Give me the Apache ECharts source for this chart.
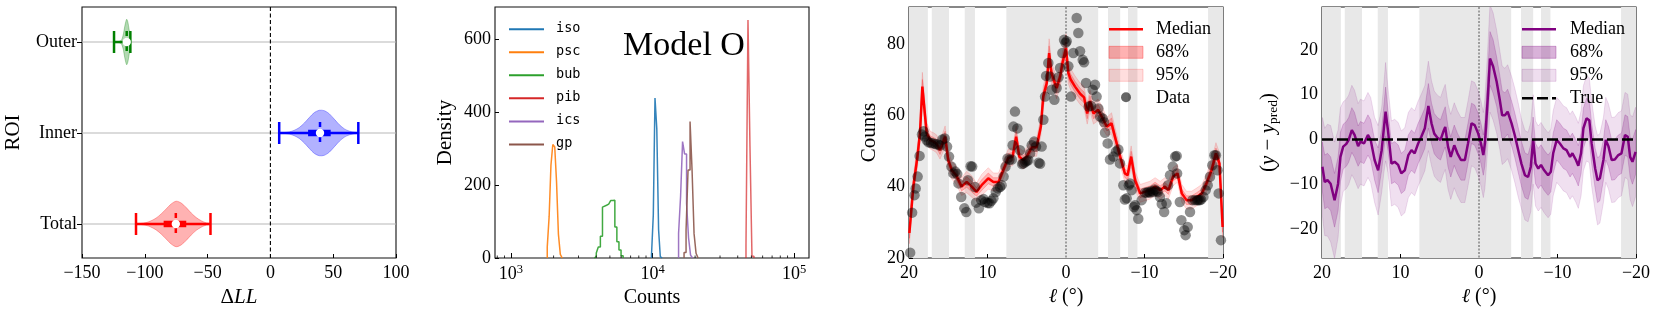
<!DOCTYPE html>
<html><head><meta charset="utf-8">
<script src="https://cdn.jsdelivr.net/npm/echarts@6/dist/echarts.min.js"></script>
<style>html,body{margin:0;padding:0;background:#fff}#c{width:1661px;height:313px}</style>
</head><body><div id="c"></div>
<script>
// ===== Panel 1: ΔLL violins per ROI =====
const roiNames = ['Total', 'Inner', 'Outer'];
const roiTicks = [0, 1, 2];
const roiColors = ['#ff0000', '#0000ff', '#008000'];
const roiFills = ['rgba(255,0,0,0.3)', 'rgba(0,0,255,0.3)', 'rgba(0,128,0,0.3)'];
const whiskerLo = [-107, 7, -124.5];
const whiskerHi = [-47.7, 70, -111.5];
const q1 = [-85, 30, -116];
const q3 = [-67, 48, -112.5];
const medians = [-75.3, 39.5, -114.4];
const violinX = [
  [-107, -103, -99, -95, -91, -87, -83, -79, -75, -71, -67, -63, -59, -55, -51, -47.7],
  [7, 11, 15, 19, 23, 27, 31, 35, 39, 43, 47, 51, 55, 59, 63, 67, 70],
  [-124.5, -121, -119, -118, -117, -116, -115, -114.4, -113.5, -112.5, -111.5]
];
const violinW = [
  [0.002, 0.006, 0.015, 0.035, 0.065, 0.11, 0.165, 0.22, 0.25, 0.23, 0.18, 0.12, 0.07, 0.035, 0.012, 0.004],
  [0.002, 0.005, 0.012, 0.03, 0.06, 0.11, 0.17, 0.225, 0.25, 0.245, 0.21, 0.15, 0.09, 0.045, 0.02, 0.008, 0.003],
  [0.002, 0.005, 0.015, 0.04, 0.09, 0.17, 0.23, 0.25, 0.22, 0.14, 0.06]
];

// ===== Panel 2: posterior histograms of counts =====
const histNames = ['iso', 'psc', 'bub', 'pib', 'ics', 'gp'];
const histColors = ['#1f77b4', '#ff7f0e', '#2ca02c', '#d62728', '#9467bd', '#8c564b'];
const isoEdges = [9838, 10130, 10414, 10723, 11041, 11350, 11688];
const isoDens = [8, 118, 440, 355, 78, 4];
const pscEdges = [1804, 1861, 1916, 1975, 2038, 2098, 2164, 2232, 2301];
const pscDens = [30, 115, 255, 312, 305, 210, 65, 10];
const bubEdges = [3872, 4007, 4139, 4282, 4431, 4577, 4736, 4901, 5063, 5238, 5420, 5600, 5794, 5995, 6202];
const bubDens = [4, 14, 30, 60, 140, 145, 148, 152, 158, 159, 85, 45, 22, 6];
const pibEdges = [45770, 47280, 48840, 50450, 52120];
const pibDens = [36, 654, 306, 5];
const icsEdges = [15284, 15789, 16311, 16849, 17407, 17982, 18576, 19187];
const icsDens = [68, 169, 320, 286, 150, 55, 8];
const gpEdges = [16711, 17264, 17834, 18424, 19033, 19662, 20312, 20983];
const gpDens = [15, 77, 242, 375, 242, 67, 13];
const countMinorTicks = [800, 900, 2000, 3000, 4000, 5000, 6000, 7000, 8000, 9000,
  20000, 30000, 40000, 50000, 60000, 70000, 80000, 90000];

// ===== Panels 3 & 4: longitude profiles =====
const maskBands = [[20, 17.6], [17.1, 14.9], [12.9, 11.6], [7.6, -4.1], [-5.35, -6.9], [-7.9, -9.1], [-18.1, -20]];
const countTicks = [20, 40, 60, 80];
const residTicks = [-20, -10, 0, 10, 20];

const l3 = [19.95,19.45,18.95,18.6,18.3,17.75,17.3,16.9,16.5,16.05,15.4,15.0,14.55,14.0,13.3,12.65,12.0,11.4,10.75,9.9,9.25,8.6,8.0,7.35,6.8,6.35,5.95,5.45,5.0,4.35,3.75,3.2,2.9,2.45,2.15,1.85,1.2,0.75,0.45,0.0,-0.3,-0.6,-1.15,-1.8,-2.3,-2.7,-3.05,-3.5,-4.1,-4.55,-5.2,-5.8,-6.35,-6.9,-7.5,-7.85,-8.3,-8.8,-9.45,-10.7,-11.35,-12.0,-12.6,-13.05,-13.65,-14.2,-14.75,-15.35,-16.0,-16.65,-17.3,-17.9,-18.55,-19.1,-19.55,-19.95];
const med3 = [27,40,48,55,68,55,53,52.6,52,50.2,54,47.4,44.6,43.2,40,41.3,40,38.5,40.4,42.3,41.3,41.3,44.6,48,48.4,54,48.4,47.4,48.4,51,51,56.8,65.2,69,77.4,71.8,67.6,70.8,74.6,78.8,71.8,70,68,66,65,60.5,64,60.5,61.5,59.6,56.8,57.7,53,48.4,43.7,43.2,48.4,41.8,38.1,39,40,39,40,39,42.8,43.7,38.1,36.2,36.2,37.1,38.1,40.9,44.6,49.3,46.5,28.7];
const w68_3 = [1.5,1.5,1.5,1.5,2,1.5,1.2,1.2,1.2,1.2,1.5,1.2,1.2,1.2,1.2,1.5,1.5,1.2,1.5,1.5,1.2,1.2,1.2,1.2,1.2,1.5,1.2,1.2,1.2,1.2,1.2,1.2,1.5,1.5,2,1.5,1.5,1.5,1.5,2,1.5,1.5,1.5,1.5,1.5,1.5,1.5,1.5,1.5,1.5,1.2,1.5,1.2,1.2,1.2,1.2,1.5,1.2,1.2,1.2,1.2,1.2,1.2,1.2,1.2,1.2,1.2,1.2,1.2,1.2,1.2,1.2,1.5,1.5,1.5,1.5];
const w95_3 = [3,3,3,3,4,3,2.5,2.5,2.5,2.5,3,2.5,2.5,2.5,2.5,3,3,2.5,3,3,2.5,2.5,2.5,2.5,2.5,3,2.5,2.5,2.5,2.5,2.5,2.5,3,3,4,3,3,3,3,4,3,3,3,3,3,3,3,3,3,3,2.5,3,2.5,2.5,2.5,2.5,3,2.5,2.5,2.5,2.5,2.5,2.5,2.5,2.5,2.5,2.5,2.5,2.5,2.5,2.5,2.5,3,3,3,3];

const dataL = [19.85,19.6,19.3,19.15,18.9,18.65,18.35,18.15,18.0,17.75,17.5,17.2,16.9,16.6,16.3,16.05,15.75,15.45,15.15,14.9,14.6,14.35,14.1,13.85,13.7,13.35,12.95,12.7,12.5,12.15,11.95,11.6,11.45,11.1,10.8,10.5,10.3,10.0,9.75,9.5,9.25,8.95,8.7,8.4,8.2,7.95,7.7,7.45,7.2,
  6.9,6.8,6.7,6.5,6.2,5.86,5.6,5.43,5.2,5.0,4.8,4.58,4.37,4.07,3.82,3.48,3.3,3.1,2.88,2.67,2.54,2.25,2.04,1.82,1.48,1.19,0.95,0.76,0.46,0.25,0.05,-0.09,-0.3,-0.64,-0.94,-1.36,-1.57,-1.79,-2.13,-2.3,-2.55,-2.89,-3.19,-3.4,-3.7,-3.9,-4.12,-4.34,-4.67,-4.85,-4.97,-5.31,-5.6,-6.03,-6.37,-6.67,-6.88,
  -7.3,-7.5,-7.73,-8.0,-8.15,-8.36,-8.66,-8.79,-9.0,-9.21,-9.64,-10.06,-10.3,-10.5,-10.7,-10.9,-11.1,-11.3,-11.55,-11.7,-11.97,-12.2,-12.5,-12.8,-13.0,-13.25,-13.6,-13.9,-14.1,-14.15,-14.5,-14.7,-15.07,-15.24,-15.5,-15.8,-16.1,-16.43,-16.7,-16.86,-17.05,-17.2,-17.5,-17.8,-18.05,-18.34,-18.64,-18.9,-19.1,-19.3,-19.45,-19.74];
const dataC = [21.5,32.7,37.6,39.5,42.8,48.6,54.6,55.5,54.0,53.0,52.4,52.2,52.1,51.9,51.8,51.5,53.2,53.5,51.2,48.4,45.6,43.7,44.2,43.5,40.9,37.1,33.9,32.9,41.8,45.7,45.6,39.9,35.5,33.9,36.2,36.5,35.7,35.4,35.3,36.0,36.7,38.5,39.5,39.9,40.4,42.8,45.6,47.9,47.5,
  47.6,51.6,56.8,61.0,56.3,50.2,46.3,46.5,46.8,47.2,47.4,49.3,51.6,52.6,51.2,46.7,46.4,51.2,58.7,65.2,71.0,74.6,70.8,67.1,64.3,67.6,70.6,73.2,77.4,81.1,80.3,80.7,73.7,65.2,77.4,87.2,83.0,77.9,75.5,74.8,69.0,62.4,62.6,67.1,68.5,65.2,61.9,59.6,59.1,58.0,55.1,52.1,47.6,48.4,49.8,50.4,46.5,
  40.4,36.4,36.7,40.4,40.9,39.0,34.3,34.8,33.4,31.0,36.2,38.3,38.3,38.5,38.3,38.8,38.5,39.2,38.8,38.5,37.1,35.1,32.9,35.3,40.4,43.2,45.6,48.4,48.6,43.7,35.7,30.6,27.8,26.4,28.7,32.9,36.2,36.2,36.2,36.2,36.2,36.4,37.1,39.0,40.4,42.75,46.0,48.8,48.8,44.6,38.1,25.0];

const l4 = [19.95,19.65,19.3,18.9,18.4,17.95,17.65,17.3,16.9,16.6,16.2,15.85,15.4,15.1,14.65,14.15,13.8,13.3,12.85,12.4,12.1,11.9,11.6,11.15,10.75,10.3,9.9,9.45,9.0,8.6,8.2,7.75,7.35,6.9,6.45,6.05,5.7,5.3,4.9,4.55,4.3,3.95,3.6,3.15,2.75,2.3,1.8,1.4,0.95,0.55,0.1,-0.25,-0.55,-0.75,-1.1,-1.4,-1.8,-2.25,-2.65,-2.95,-3.3,-3.65,-4.15,-4.55,-5.0,-5.4,-5.85,-6.25,-6.6,-6.9,-7.2,-7.55,-7.9,-8.3,-8.8,-9.15,-9.45,-9.9,-10.3,-10.75,-11.15,-11.6,-11.9,-12.35,-12.65,-13.0,-13.3,-13.7,-14.05,-14.35,-14.8,-15.1,-15.4,-15.85,-16.15,-16.5,-16.9,-17.3,-17.75,-18.15,-18.6,-18.95,-19.25,-19.55,-19.95];
const r4 = [-6.1,-9.5,-9.1,-9.9,-13.6,-9.9,-3.9,-1.6,-1.0,-0.1,2.1,1.0,-1.5,-0.5,-0.9,1.0,-0.1,-4.6,-6.9,-2.4,2.8,6.2,2.1,-5.4,-5.0,-5.7,-7.6,-6.9,-3.5,-2.4,-3.1,-0.9,0.6,2.5,7.5,3.6,1.3,0.4,-0.1,1.7,2.8,-1.6,-3.9,-1.3,-3.1,-4.6,-4.6,-0.9,3.6,3.2,1.3,-0.9,-3.5,-0.9,8.8,18.1,16.3,12.9,8.8,5.4,5.4,6.2,3.6,1.0,-2.4,-5.4,-8.0,-8.4,-6.1,0.0,-5.4,-6.5,-5.7,-6.9,-8.0,-7.2,-3.1,-0.1,-0.9,-2.0,-2.4,-3.9,-3.1,-4.6,-5.9,-3.1,2.5,4.7,4.3,-0.9,-6.5,-9.1,-8.7,-4.6,-0.1,-1.6,-4.6,-4.5,-3.5,-3.1,1.0,0.6,-3.9,-5.0,-2.8];
const w68_4 = [5.5,6,6,6,6,6,5.5,5,5,5,5,5,4.5,4.5,4.5,4.5,4.5,4.5,5,4.5,5,5.5,4.5,4.5,4.5,4.5,4.5,4.5,4.5,4.5,4.5,4.5,4.5,4.5,5,4.5,4.5,4.5,4.5,4.5,4.5,4.5,4.5,4.5,4.5,4.5,4.5,4.5,4.5,4.5,4.5,4.5,4.5,5,5.5,6,6,5.5,5.5,5.5,5,5,5,5,5,5,5,5,5,5,4.5,4.5,4.5,4.5,4.5,4.5,4.5,4.5,4.5,4.5,4.5,4.5,4.5,4.5,4.5,4.5,4.5,4.5,4.5,4.5,4.5,5,5,4.5,4.5,4.5,4.5,4.5,4.5,4.5,4.5,4.5,4.5,5,5];
const w95_4 = [11,12,12.5,13,13,12,11,10,10,10,10,10,9.5,9.5,9.5,9.5,9.5,9.5,10,9.5,10,11,9.5,9.5,9.5,9.5,9.5,9.5,9.5,9.5,9.5,9.5,9.5,9.5,10,9.5,9.5,9.5,9.5,9.5,9.5,9.5,9.5,9.5,9.5,9.5,9.5,9.5,9.5,9.5,9.5,9.5,9.5,10,11,12,12,11.5,11,11,10.5,10.5,10.5,10.5,10.5,10,10,10,10,10,9.5,9.5,9.5,9.5,9.5,9.5,9.5,9.5,9.5,9.5,9.5,9.5,9.5,9.5,9.5,9.5,9.5,9.5,9.5,9.5,9.5,10,10,9.5,9.5,9.5,9.5,9.5,9.5,9.5,9.5,9.5,9.5,10,10];

// ===== chart =====
const SERIF = 'Liberation Serif';
const MONO = 'DejaVu Sans Mono';
const TICK_FS = 18;
const minus = v => (v < 0 ? '\u2212' + Math.abs(v) : String(v));

function stepPoints(edges, dens) {
  const pts = [[edges[0], 0]];
  dens.forEach((d, i) => { pts.push([edges[i], d]); pts.push([edges[i + 1], d]); });
  pts.push([edges[edges.length - 1], 0]);
  return pts;
}
function bandSeries(ai, xs, mid, w, fill, stroke, z) {
  return {
    type: 'custom', xAxisIndex: ai, yAxisIndex: ai, z: z, clip: true, silent: true, data: [[0, 0]],
    renderItem: (p, api) => {
      const up = xs.map((x, i) => api.coord([x, mid[i] + w[i]]));
      const dn = xs.map((x, i) => api.coord([x, mid[i] - w[i]])).reverse();
      return { type: 'polygon', shape: { points: up.concat(dn) }, style: { fill: fill, stroke: stroke, lineWidth: 0.8 } };
    }
  };
}
function maskSeries(ai) {
  return {
    type: 'custom', xAxisIndex: ai, yAxisIndex: ai, z: 1, clip: true, silent: true,
    data: maskBands.map(b => [b[0], b[1]]),
    renderItem: (p, api) => {
      const cs = p.coordSys;
      const a = api.coord([api.value(0), 0])[0], b = api.coord([api.value(1), 0])[0];
      return { type: 'rect', shape: { x: Math.min(a, b), y: cs.y, width: Math.abs(b - a), height: cs.height }, style: { fill: '#e8e8e8' } };
    }
  };
}
function vZeroSeries(ai) {
  return {
    type: 'custom', xAxisIndex: ai, yAxisIndex: ai, z: 2, silent: true, data: [[0, 0]],
    renderItem: (p, api) => {
      const cs = p.coordSys; const x = api.coord([0, 0])[0];
      return { type: 'line', shape: { x1: x, y1: cs.y, x2: x, y2: cs.y + cs.height }, style: { stroke: '#444', lineWidth: 0.9, lineDash: [2, 1.5] } };
    }
  };
}
const noLine = { show: false, onZero: false };
const lab = { fontSize: TICK_FS, color: '#000', fontFamily: SERIF };
const tickIn = { inside: true, length: 4, lineStyle: { color: '#000' } };
function lonAxis(gi) {
  return {
    gridIndex: gi, type: 'value', inverse: true, min: -20, max: 20, interval: 10,
    axisLine: noLine, splitLine: { show: false }, axisTick: tickIn,
    axisLabel: Object.assign({ formatter: minus, margin: 6 }, lab),
    name: '{i|\u2113} (\u00b0)', nameLocation: 'middle', nameGap: 21,
    nameTextStyle: { fontSize: 20, fontFamily: SERIF, color: '#000', rich: { i: { fontStyle: 'italic', fontSize: 20, fontFamily: 'DejaVu Serif' } } }
  };
}
const gridBase = { show: true, borderColor: '#111', borderWidth: 1.1, containLabel: false };

const series = [];
// panel 1
series.push({
  type: 'custom', xAxisIndex: 0, yAxisIndex: 0, z: 1, silent: true,
  data: roiTicks.map(v => [0, v]),
  renderItem: (p, api) => {
    const cs = p.coordSys; const y = api.coord([0, api.value(1)])[1];
    return { type: 'line', shape: { x1: cs.x, y1: y, x2: cs.x + cs.width, y2: y }, style: { stroke: '#b8b8b8', lineWidth: 1.1 } };
  }
});
series.push({
  type: 'custom', xAxisIndex: 0, yAxisIndex: 0, z: 2, silent: true, data: [[0, 0]],
  renderItem: (p, api) => {
    const cs = p.coordSys; const x = api.coord([0, 0])[0];
    return { type: 'line', shape: { x1: x, y1: cs.y, x2: x, y2: cs.y + cs.height }, style: { stroke: '#000', lineWidth: 1.1, lineDash: [4, 2.5] } };
  }
});
series.push({
  type: 'custom', xAxisIndex: 0, yAxisIndex: 0, z: 3, silent: true,
  data: roiTicks.map(v => [0, v]),
  renderItem: (p, api) => {
    const k = p.dataIndex; const yv = roiTicks[k]; const col = roiColors[k];
    const up = violinX[k].map((x, i) => api.coord([x, yv + violinW[k][i]]));
    const dn = violinX[k].map((x, i) => api.coord([x, yv - violinW[k][i]])).reverse();
    const a = api.coord([whiskerLo[k], yv]), b = api.coord([whiskerHi[k], yv]);
    const c1 = api.coord([q1[k], yv]), c3 = api.coord([q3[k], yv]), m = api.coord([medians[k], yv]);
    const cap = 11;
    return {
      type: 'group', children: [
        { type: 'polygon', shape: { points: up.concat(dn), smooth: 0.3 }, style: { fill: roiFills[k], stroke: roiFills[k], lineWidth: 1 } },
        { type: 'line', shape: { x1: a[0], y1: a[1], x2: b[0], y2: b[1] }, style: { stroke: col, lineWidth: 2.5 } },
        { type: 'line', shape: { x1: a[0], y1: a[1] - cap, x2: a[0], y2: a[1] + cap }, style: { stroke: col, lineWidth: 2.5 } },
        { type: 'line', shape: { x1: b[0], y1: b[1] - cap, x2: b[0], y2: b[1] + cap }, style: { stroke: col, lineWidth: 2.5 } },
        { type: 'line', shape: { x1: c1[0], y1: c1[1], x2: c3[0], y2: c3[1] }, style: { stroke: col, lineWidth: 6.5 } },
        { type: 'line', shape: { x1: m[0], y1: m[1] - cap, x2: m[0], y2: m[1] + cap }, style: { stroke: col, lineWidth: 2.5, lineDash: [5, 2.5] } },
        { type: 'circle', shape: { cx: m[0], cy: m[1], r: 4.2 }, style: { fill: '#fff' } }
      ]
    };
  }
});
// panel 2
const histEdges = [isoEdges, pscEdges, bubEdges, pibEdges, icsEdges, gpEdges];
const histDens = [isoDens, pscDens, bubDens, pibDens, icsDens, gpDens];
histNames.forEach((n, i) => {
  series.push({
    type: 'line', name: n, xAxisIndex: 1, yAxisIndex: 1, z: 3, silent: true, symbol: 'none', showSymbol: false,
    data: stepPoints(histEdges[i], histDens[i]),
    lineStyle: { color: histColors[i], width: 1.5, opacity: i === 3 ? 0.7 : 0.9 }
  });
});
series.push({
  type: 'custom', xAxisIndex: 1, yAxisIndex: 1, z: 4, silent: true,
  data: countMinorTicks.map(v => [v, 0]),
  renderItem: (p, api) => {
    const c = api.coord([api.value(0), 0]);
    return { type: 'line', shape: { x1: c[0], y1: c[1], x2: c[0], y2: c[1] - 2.5 }, style: { stroke: '#000', lineWidth: 0.8 } };
  }
});
// panel 3
series.push(maskSeries(2));
series.push(vZeroSeries(2));
series.push(bandSeries(2, l3, med3, w95_3, 'rgba(255,0,0,0.13)', 'rgba(255,0,0,0.18)', 3));
series.push(bandSeries(2, l3, med3, w68_3, 'rgba(255,0,0,0.22)', 'rgba(255,0,0,0.28)', 4));
series.push({
  type: 'line', xAxisIndex: 2, yAxisIndex: 2, z: 5, silent: true, symbol: 'none', showSymbol: false,
  data: l3.map((l, i) => [l, med3[i]]), lineStyle: { color: '#ff0000', width: 2.5 }
});
series.push({
  type: 'scatter', xAxisIndex: 2, yAxisIndex: 2, z: 6, silent: true, symbolSize: 10.5,
  data: dataL.map((l, i) => [l, dataC[i]]), itemStyle: { color: 'rgba(0,0,0,0.55)' }
});
// panel 4
series.push(maskSeries(3));
series.push(vZeroSeries(3));
series.push(bandSeries(3, l4, r4, w95_4, 'rgba(128,0,128,0.12)', 'rgba(128,0,128,0.16)', 3));
series.push(bandSeries(3, l4, r4, w68_4, 'rgba(128,0,128,0.2)', 'rgba(128,0,128,0.25)', 4));
series.push({
  type: 'line', xAxisIndex: 3, yAxisIndex: 3, z: 5, silent: true, symbol: 'none', showSymbol: false,
  data: l4.map((l, i) => [l, r4[i]]), lineStyle: { color: '#800080', width: 2.5 }
});
series.push({
  type: 'custom', xAxisIndex: 3, yAxisIndex: 3, z: 6, silent: true, data: [[0, 0]],
  renderItem: (p, api) => {
    const cs = p.coordSys; const y = api.coord([0, 0])[1];
    return { type: 'line', shape: { x1: cs.x, y1: y, x2: cs.x + cs.width, y2: y }, style: { stroke: '#000', lineWidth: 2.5, lineDash: [11, 4] } };
  }
});

// legends (graphic)
const g = [];
const txt = (x, y, s, font) => ({ type: 'text', x: x, y: y, z: 100, style: { text: s, font: font, fill: '#000', align: 'left', verticalAlign: 'middle' } });
const rows = [29.3, 52.3, 75.3, 98.3, 121.5, 144.5];
histNames.forEach((n, i) => {
  g.push({ type: 'line', z: 100, shape: { x1: 509, y1: rows[i], x2: 544, y2: rows[i] }, style: { stroke: histColors[i], lineWidth: 2 } });
  g.push(txt(556, rows[i] - 1, n, '13.5px "' + MONO + '"'));
});
g.push({ type: 'text', x: 684, y: 46, z: 100, style: { text: 'Model O', font: '34px "' + SERIF + '"', fill: '#000', align: 'center', verticalAlign: 'middle' } });
const L3 = 1109, L4 = 1522;
g.push({ type: 'line', z: 100, shape: { x1: L3, y1: rows[0], x2: L3 + 34, y2: rows[0] }, style: { stroke: '#ff0000', lineWidth: 2.5 } });
g.push({ type: 'rect', z: 100, shape: { x: L3, y: rows[1] - 6, width: 34, height: 12 }, style: { fill: 'rgba(255,0,0,0.3)', stroke: 'rgba(255,0,0,0.3)' } });
g.push({ type: 'rect', z: 100, shape: { x: L3, y: rows[2] - 6, width: 34, height: 12 }, style: { fill: 'rgba(255,0,0,0.13)', stroke: 'rgba(255,0,0,0.18)' } });
g.push({ type: 'circle', z: 100, shape: { cx: L3 + 17, cy: rows[3] - 1, r: 5 }, style: { fill: 'rgba(0,0,0,0.6)' } });
['Median', '68%', '95%', 'Data'].forEach((s, i) => g.push(txt(1156, rows[i], s, TICK_FS + 'px "' + SERIF + '"')));
g.push({ type: 'line', z: 100, shape: { x1: L4, y1: rows[0], x2: L4 + 34, y2: rows[0] }, style: { stroke: '#800080', lineWidth: 2.5 } });
g.push({ type: 'rect', z: 100, shape: { x: L4, y: rows[1] - 6, width: 34, height: 12 }, style: { fill: 'rgba(128,0,128,0.3)', stroke: 'rgba(128,0,128,0.3)' } });
g.push({ type: 'rect', z: 100, shape: { x: L4, y: rows[2] - 6, width: 34, height: 12 }, style: { fill: 'rgba(128,0,128,0.13)', stroke: 'rgba(128,0,128,0.16)' } });
g.push({ type: 'line', z: 100, shape: { x1: L4, y1: rows[3], x2: L4 + 34, y2: rows[3] }, style: { stroke: '#000', lineWidth: 2.5, lineDash: [11, 4] } });
['Median', '68%', '95%', 'True'].forEach((s, i) => g.push(txt(1570, rows[i], s, TICK_FS + 'px "' + SERIF + '"')));

const option = {
  animation: false,
  backgroundColor: '#fff',
  textStyle: { fontFamily: SERIF },
  grid: [
    Object.assign({ left: 82, top: 7, width: 314, height: 251 }, gridBase),
    Object.assign({ left: 495, top: 7, width: 314, height: 251 }, gridBase),
    Object.assign({ left: 909, top: 7, width: 314, height: 251 }, gridBase),
    Object.assign({ left: 1322, top: 7, width: 314, height: 251 }, gridBase)
  ],
  xAxis: [
    {
      gridIndex: 0, type: 'value', min: -150, max: 100, interval: 50,
      axisLine: noLine, splitLine: { show: false }, axisTick: tickIn,
      axisLabel: Object.assign({ formatter: minus, margin: 6 }, lab),
      name: '\u0394{i|LL}', nameLocation: 'middle', nameGap: 23,
      nameTextStyle: { fontSize: 21, fontFamily: SERIF, color: '#000', rich: { i: { fontStyle: 'italic', fontSize: 21, fontFamily: SERIF } } }
    },
    {
      gridIndex: 1, type: 'log', logBase: 10, min: 771, max: 127600,
      axisLine: noLine, splitLine: { show: false },
      axisTick: { inside: true, length: 5, lineStyle: { color: '#000' } },
      axisLabel: {
        showMinLabel: false, showMaxLabel: false, margin: 5, color: '#000',
        formatter: v => '{b|10}{s|' + Math.round(Math.log10(v)) + '}',
        rich: { b: { fontSize: TICK_FS, fontFamily: SERIF, color: '#000' }, s: { fontSize: 12.5, fontFamily: SERIF, color: '#000', padding: [0, 0, 9, 0] } }
      },
      name: 'Counts', nameLocation: 'middle', nameGap: 26,
      nameTextStyle: { fontSize: 20, fontFamily: SERIF, color: '#000' }
    },
    lonAxis(2),
    lonAxis(3)
  ],
  yAxis: [
    {
      gridIndex: 0, type: 'value', min: -0.374, max: 2.385,
      axisLine: noLine, splitLine: { show: false },
      axisTick: { inside: false, length: 5, customValues: roiTicks, lineStyle: { color: '#000' } },
      axisLabel: Object.assign({ customValues: roiTicks, formatter: v => roiNames[Math.round(v)], margin: 5 }, lab),
      name: 'ROI', nameLocation: 'middle', nameGap: 58,
      nameTextStyle: { fontSize: 21, fontFamily: SERIF, color: '#000' }
    },
    {
      gridIndex: 1, type: 'value', min: 0, max: 690, interval: 200,
      axisLine: noLine, splitLine: { show: false }, axisTick: tickIn,
      axisLabel: Object.assign({ showMaxLabel: false, margin: 4 }, lab),
      name: 'Density', nameLocation: 'middle', nameGap: 39,
      nameTextStyle: { fontSize: 21, fontFamily: SERIF, color: '#000' }
    },
    {
      gridIndex: 2, type: 'value', min: 20, max: 90.3,
      axisLine: noLine, splitLine: { show: false },
      axisTick: Object.assign({ customValues: countTicks }, tickIn),
      axisLabel: Object.assign({ customValues: countTicks, margin: 4 }, lab),
      name: 'Counts', nameLocation: 'middle', nameGap: 29,
      nameTextStyle: { fontSize: 21, fontFamily: SERIF, color: '#000' }
    },
    {
      gridIndex: 3, type: 'value', min: -26.5, max: 29.6,
      axisLine: noLine, splitLine: { show: false },
      axisTick: Object.assign({ customValues: residTicks }, tickIn),
      axisLabel: Object.assign({ customValues: residTicks, formatter: minus, margin: 4 }, lab),
      name: '({i|y} \u2212 {i|y}{s|pred})', nameLocation: 'middle', nameGap: 42,
      nameTextStyle: {
        fontSize: 21, fontFamily: SERIF, color: '#000',
        rich: { i: { fontStyle: 'italic', fontSize: 21, fontFamily: SERIF }, s: { fontSize: 13.5, fontFamily: SERIF, padding: [9, 0, 0, 0] } }
      }
    }
  ],
  series: series,
  graphic: g
};
const chart = echarts.init(document.getElementById('c'), null, { renderer: 'canvas' });
chart.setOption(option);
</script></body></html>
